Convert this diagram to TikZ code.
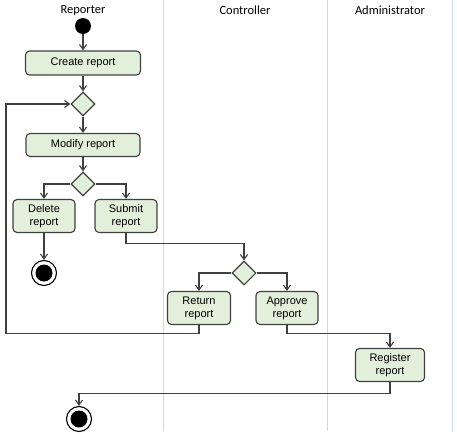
\documentclass[tikz,border=0pt]{standalone}
\usepackage{fontspec}
\setmainfont{Liberation Sans}
\newfontfamily\headfont{Carlito}
\usetikzlibrary{shapes.geometric,arrows.meta}
\definecolor{actfill}{HTML}{E2EFDA}
\definecolor{actline}{HTML}{404040}
\definecolor{laneline}{HTML}{C5DAF0}
\begin{document}
\begin{tikzpicture}[x=1pt,y=-1pt,
  act/.style={draw=actline,fill=actfill,line width=1.1pt,rounded corners=4pt,align=center,
    font=\fontsize{11}{13}\selectfont,inner sep=1pt},
  choice/.style={draw=actline,fill=actfill,line width=1.1pt,diamond,minimum width=24pt,minimum height=24pt,inner sep=0pt},
  initial/.style={circle,fill=black,minimum size=16pt,inner sep=0pt},
  final/.style={circle,draw=black,fill=white,line width=1.1pt,minimum size=25pt,inner sep=0pt,
    path picture={\fill[black] (path picture bounding box.center) circle (8.5pt);}},
  flow/.style={draw=actline,line width=1.1pt,-{Straight Barb[length=5pt,width=7pt]}},
  lane/.style={draw=laneline,line width=0.9pt},
  lanehead/.style={font=\headfont\fontsize{12.5}{14}\selectfont}]
\useasboundingbox (0,0) rectangle (457,433);
\draw[lane] (163,0) -- (163,431);
\draw[lane] (327,0) -- (327,431);
\draw[lane] (452,0) -- (452,431);

\node[lanehead] (hrep) at (83,10) {Reporter};
\node[lanehead] (hctl) at (245,10) {Controller};
\node[lanehead] (hadm) at (390,10) {Administrator};

\node[initial] (start) at (83,26) {};
\node[act,minimum width=115pt,minimum height=24pt] (create) at (83,63) {Create report};
\node[choice] (d1) at (83,104) {};
\node[act,minimum width=114pt,minimum height=23pt] (modify) at (83,145) {Modify report};
\node[choice] (d2) at (83,184) {};
\node[act,minimum width=62pt,minimum height=33pt] (delete) at (44,216) {Delete\\report};
\node[act,minimum width=62pt,minimum height=33pt] (submit) at (126,216) {Submit\\report};
\node[final] (end1) at (44,273) {};
\node[choice] (d3) at (244,273) {};
\node[act,minimum width=63pt,minimum height=33pt] (return) at (199,308) {Return\\report};
\node[act,minimum width=62pt,minimum height=33pt] (approve) at (287,308) {Approve\\report};
\node[act,minimum width=69pt,minimum height=33pt] (register) at (390,365) {Register\\report};
\node[final] (end2) at (79,419) {};
\coordinate (loop) at (6,104);

\draw[flow] (start) -- (create);
\draw[flow] (create) -- (d1);
\draw[flow] (d1) -- (modify);
\draw[flow] (modify) -- (d2);
\draw[flow] (d2.west) -| (delete.north);
\draw[flow] (d2.east) -| (submit.north);
\draw[flow] (delete) -- (end1);
\draw[flow] (submit.south) -- ++(0,10) -| (d3.north);
\draw[flow] (d3.west) -| (return.north);
\draw[flow] (d3.east) -| (approve.north);
\draw[flow] (return.south) -- ++(0,8.5) -| (loop) -- (d1.west);
\draw[flow] (approve.south) -- ++(0,8.5) -| (register.north);
\draw[flow] (register.south) -- ++(0,11) -| (end2.north);
\end{tikzpicture}
\end{document}
